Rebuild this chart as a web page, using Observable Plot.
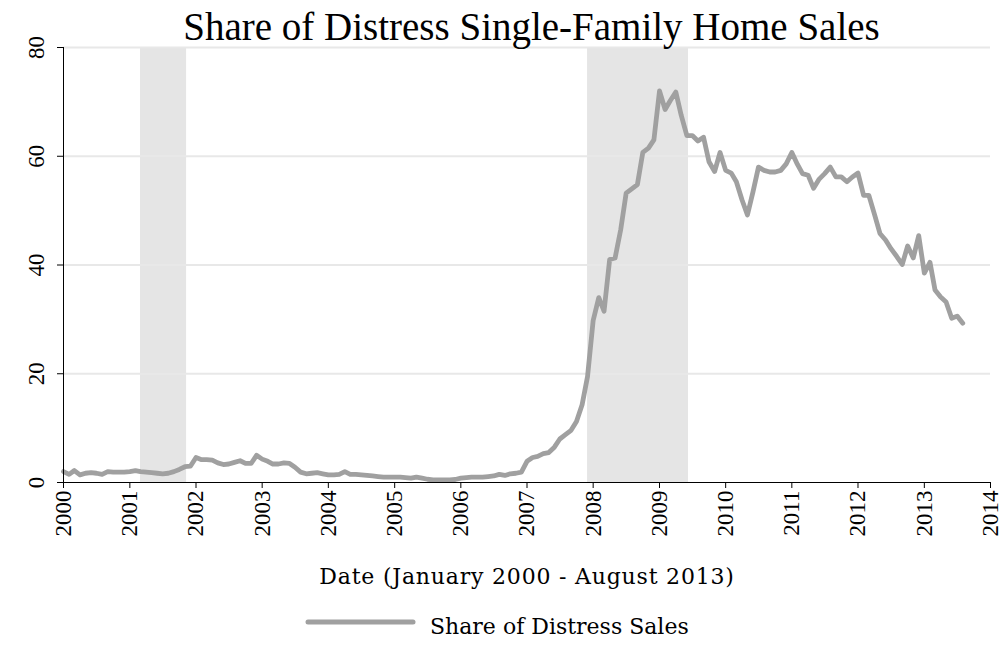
<!DOCTYPE html>
<html>
<head>
<meta charset="utf-8">
<script src="https://cdn.jsdelivr.net/npm/d3@7"></script>
<script src="https://cdn.jsdelivr.net/npm/@observablehq/plot@0.6"></script>
<style>
  html, body { margin: 0; padding: 0; background: #fff; }
  body { position: relative; width: 1001px; height: 655px; overflow: hidden; font-family: "Liberation Serif", serif; color: #000; }
  #title { position: absolute; z-index: 2; left: 68px; width: 927px; top: 5px; height: 44px; line-height: 44px; text-align: center; font-size: 39px; white-space: nowrap; }
  #chart { position: absolute; z-index: 1; left: 0; top: 40px; }
  #legend { position: absolute; left: 0; top: 600px; width: 1001px; height: 55px; }
</style>
</head>
<body>
<div id="title">Share of Distress Single-Family Home Sales</div>
<div id="chart"></div>
<div id="legend"></div>
<script>
// Monthly share of distress sales (%), January 2000 – August 2013
const startMonth = "2000-01-01";
const values2000 = [2.0, 1.5, 2.2, 1.4, 1.7, 1.8, 1.7, 1.5, 2.0, 1.9, 1.9, 1.9];
const values2001 = [2.0, 2.2, 2.0, 1.9, 1.8, 1.7, 1.6, 1.7, 2.0, 2.4, 2.9, 3.0];
const values2002 = [4.6, 4.2, 4.2, 4.1, 3.6, 3.3, 3.4, 3.7, 4.0, 3.5, 3.5, 5.0];
const values2003 = [4.3, 3.9, 3.4, 3.4, 3.6, 3.5, 2.8, 1.9, 1.6, 1.7, 1.8, 1.6];
const values2004 = [1.4, 1.4, 1.5, 2.0, 1.5, 1.5, 1.4, 1.3, 1.2, 1.1, 1.0, 1.0];
const values2005 = [1.0, 1.0, 0.9, 0.8, 1.0, 0.8, 0.6, 0.5, 0.5, 0.5, 0.5, 0.55];
const values2006 = [0.8, 0.9, 1.0, 1.0, 1.0, 1.1, 1.2, 1.5, 1.3, 1.6, 1.7, 1.9];
const values2007 = [3.9, 4.6, 4.8, 5.3, 5.5, 6.5, 8.0, 8.8, 9.6, 11.2, 14.3, 19.5];
const values2008 = [29.8, 34.0, 31.5, 41.0, 41.3, 46.5, 53.2, 54.0, 54.8, 60.7, 61.5, 63.0];
const values2009 = [72.0, 68.6, 70.2, 71.8, 67.5, 63.8, 63.8, 62.8, 63.5, 59.0, 57.2, 60.7];
const values2010 = [57.4, 56.9, 55.3, 52.0, 49.2, 53.5, 58.0, 57.4, 57.1, 57.1, 57.4, 58.6];
const values2011 = [60.7, 58.5, 56.8, 56.5, 54.1, 55.8, 56.8, 58.0, 56.2, 56.2, 55.3, 56.2];
const values2012 = [56.9, 52.8, 52.8, 49.3, 45.8, 44.6, 43.0, 41.6, 40.1, 43.5, 41.3, 45.4];
const values2013 = [38.5, 40.5, 35.4, 34.1, 33.2, 30.2, 30.6, 29.3];

// Recession periods (shaded)
const recessionStarts = ["2001-03-01", "2007-12-01"];
const recessionEnds = ["2001-11-10", "2009-06-10"];

// Axis ticks
const yTicks = [0, 20, 40, 60, 80];
const gridTicks = [20, 40, 60, 80];
const xTickYears = [2000, 2001, 2002, 2003, 2004, 2005, 2006, 2007, 2008, 2009, 2010, 2011, 2012, 2013, 2014];

const titleText = "Share of Distress Single-Family Home Sales";
const xLabel = "Date (January 2000 - August 2013)";
const seriesName = "Share of Distress Sales";

const allValues = [].concat(values2000, values2001, values2002, values2003, values2004, values2005, values2006,
  values2007, values2008, values2009, values2010, values2011, values2012, values2013);
const start = new Date(startMonth);
const data = allValues.map((v, i) => ({date: d3.utcMonth.offset(start, i), value: v}));
const recessions = recessionStarts.map((s, i) => ({start: new Date(s), end: new Date(recessionEnds[i])}));
const xTicks = xTickYears.map(y => new Date(Date.UTC(y, 0, 1)));

const lineColor = "#a0a0a0";
const labelFont = "'DejaVu Serif', serif";

const chart = Plot.plot({
  width: 1001,
  height: 560,
  marginTop: 7,
  marginLeft: 63,
  marginRight: 11,
  marginBottom: 118,
  style: {fontFamily: "'Liberation Serif', serif", fontSize: "23px", color: "#000", background: "transparent", overflow: "visible"},
  x: {type: "utc", domain: [xTicks[0], xTicks[xTicks.length - 1]]},
  y: {domain: [0, 80]},
  marks: [
    Plot.rect(recessions, {x1: "start", x2: "end", fill: "#e5e5e5"}),
    Plot.ruleY(gridTicks, {stroke: "#e8e8e8", strokeWidth: 2}),
    Plot.line(data, {x: "date", y: "value", stroke: lineColor, strokeWidth: 4.8, strokeLinejoin: "round", strokeLinecap: "round"}),
    Plot.ruleX([xTicks[0]], {y1: 0, y2: 80, stroke: "#000", strokeWidth: 1}),
    Plot.ruleY([0], {stroke: "#000", strokeWidth: 1}),
    Plot.axisY(yTicks, {tickRotate: -90, tickSize: 6, tickPadding: 14, label: null, fontSize: 23}),
    Plot.axisX(xTicks, {tickRotate: -90, tickSize: 6, tickPadding: 2, tickFormat: "%Y", label: null, fontSize: 23}),
    Plot.text([xLabel], {frameAnchor: "bottom", dy: 94, lineAnchor: "middle", fontSize: 22, fontFamily: labelFont, fill: "#000"})
  ]
});
d3.select(chart).selectAll("text").filter(function() { return this.textContent === xLabel; })
  .attr("letter-spacing", "0.8px");
document.getElementById("chart").appendChild(chart);

// Legend
const legend = d3.select("#legend").append("svg").attr("width", 1001).attr("height", 55);
legend.append("line").attr("x1", 308).attr("x2", 413).attr("y1", 22).attr("y2", 22)
  .attr("stroke", lineColor).attr("stroke-width", 5).attr("stroke-linecap", "round");
legend.append("text").attr("x", 430).attr("y", 34).attr("font-family", labelFont)
  .attr("font-size", 22).attr("fill", "#000").text(seriesName);
document.getElementById("title").textContent = titleText;
</script>
</body>
</html>
